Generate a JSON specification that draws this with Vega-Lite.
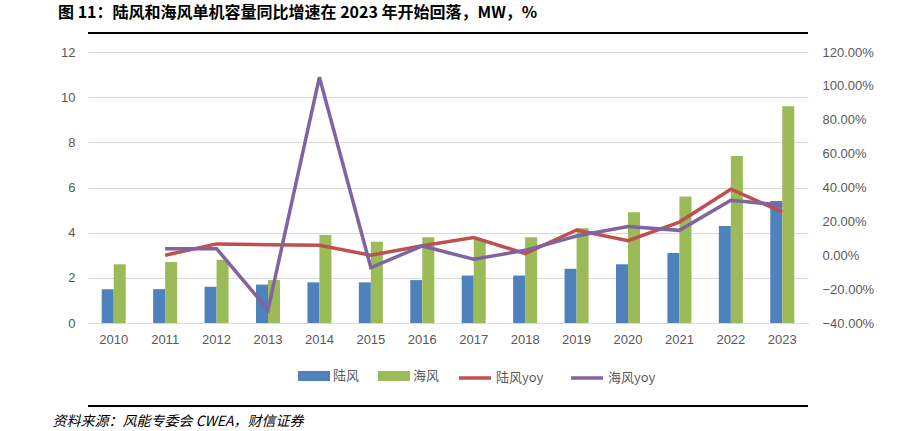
{
  "$schema": "https://vega.github.io/schema/vega-lite/v6.json",
  "width": 720,
  "height": 271,
  "autosize": {"type": "none"},
  "padding": {"left": 88, "top": 52, "right": 90, "bottom": 108},
  "background": "white",
  "title": {
    "text": "图 11：陆风和海风单机容量同比增速在 2023 年开始回落，MW，%",
    "anchor": "start",
    "frame": "group",
    "dx": -30,
    "offset": 11,
    "font": "Noto Sans CJK SC",
    "fontSize": 16,
    "fontWeight": "bold",
    "color": "black"
  },
  "datasets": {
    "bars": [
      {"year": "2010", "type": "陆风", "value": 1.5}, {"year": "2010", "type": "海风", "value": 2.6},
      {"year": "2011", "type": "陆风", "value": 1.5}, {"year": "2011", "type": "海风", "value": 2.7},
      {"year": "2012", "type": "陆风", "value": 1.6}, {"year": "2012", "type": "海风", "value": 2.8},
      {"year": "2013", "type": "陆风", "value": 1.7}, {"year": "2013", "type": "海风", "value": 1.9},
      {"year": "2014", "type": "陆风", "value": 1.8}, {"year": "2014", "type": "海风", "value": 3.9},
      {"year": "2015", "type": "陆风", "value": 1.8}, {"year": "2015", "type": "海风", "value": 3.6},
      {"year": "2016", "type": "陆风", "value": 1.9}, {"year": "2016", "type": "海风", "value": 3.8},
      {"year": "2017", "type": "陆风", "value": 2.1}, {"year": "2017", "type": "海风", "value": 3.7},
      {"year": "2018", "type": "陆风", "value": 2.1}, {"year": "2018", "type": "海风", "value": 3.8},
      {"year": "2019", "type": "陆风", "value": 2.4}, {"year": "2019", "type": "海风", "value": 4.2},
      {"year": "2020", "type": "陆风", "value": 2.6}, {"year": "2020", "type": "海风", "value": 4.9},
      {"year": "2021", "type": "陆风", "value": 3.1}, {"year": "2021", "type": "海风", "value": 5.6},
      {"year": "2022", "type": "陆风", "value": 4.3}, {"year": "2022", "type": "海风", "value": 7.4},
      {"year": "2023", "type": "陆风", "value": 5.4}, {"year": "2023", "type": "海风", "value": 9.6}
    ],
    "lines": [
      {"year": "2011", "series": "陆风yoy", "yoy": 0.0}, {"year": "2011", "series": "海风yoy", "yoy": 0.039},
      {"year": "2012", "series": "陆风yoy", "yoy": 0.067}, {"year": "2012", "series": "海风yoy", "yoy": 0.039},
      {"year": "2013", "series": "陆风yoy", "yoy": 0.0625}, {"year": "2013", "series": "海风yoy", "yoy": -0.322},
      {"year": "2014", "series": "陆风yoy", "yoy": 0.059}, {"year": "2014", "series": "海风yoy", "yoy": 1.051},
      {"year": "2015", "series": "陆风yoy", "yoy": 0.0}, {"year": "2015", "series": "海风yoy", "yoy": -0.073},
      {"year": "2016", "series": "陆风yoy", "yoy": 0.056}, {"year": "2016", "series": "海风yoy", "yoy": 0.055},
      {"year": "2017", "series": "陆风yoy", "yoy": 0.105}, {"year": "2017", "series": "海风yoy", "yoy": -0.024},
      {"year": "2018", "series": "陆风yoy", "yoy": 0.01}, {"year": "2018", "series": "海风yoy", "yoy": 0.029},
      {"year": "2019", "series": "陆风yoy", "yoy": 0.149}, {"year": "2019", "series": "海风yoy", "yoy": 0.114},
      {"year": "2020", "series": "陆风yoy", "yoy": 0.086}, {"year": "2020", "series": "海风yoy", "yoy": 0.169},
      {"year": "2021", "series": "陆风yoy", "yoy": 0.196}, {"year": "2021", "series": "海风yoy", "yoy": 0.147},
      {"year": "2022", "series": "陆风yoy", "yoy": 0.39}, {"year": "2022", "series": "海风yoy", "yoy": 0.325},
      {"year": "2023", "series": "陆风yoy", "yoy": 0.255}, {"year": "2023", "series": "海风yoy", "yoy": 0.296}
    ],
    "rules": [{"pos": 12.84}, {"pos": -3.68}]
  },
  "layer": [
    {
      "layer": [
        {
          "data": {"name": "bars"},
          "mark": {"type": "bar"},
          "encoding": {
            "x": {
              "field": "year",
              "type": "ordinal",
              "title": "资料来源：风能专委会 CWEA，财信证券",
              "scale": {"paddingInner": 0.533, "paddingOuter": 0.2665},
              "axis": {
                "labelAngle": 0,
                "ticks": false,
                "domainColor": "#D9D9D9",
                "labelColor": "#595959",
                "labelFont": "Liberation Sans",
                "labelFontSize": 13,
                "labelPadding": 10,
                "titleX": -36,
                "titleY": 102,
                "titleAlign": "left",
                "titleAnchor": "start",
                "titleBaseline": "alphabetic",
                "titleFont": "Noto Sans CJK SC",
                "titleFontSize": 14,
                "titleFontStyle": "italic",
                "titleFontWeight": "normal",
                "titleColor": "black"
              }
            },
            "xOffset": {"field": "type", "scale": {"domain": ["陆风", "海风"]}},
            "y": {
              "field": "value",
              "type": "quantitative",
              "title": null,
              "scale": {"domain": [0, 12]},
              "axis": {
                "values": [0, 2, 4, 6, 8, 10, 12],
                "domain": false,
                "ticks": false,
                "gridColor": "#D9D9D9",
                "labelColor": "#595959",
                "labelFont": "Liberation Sans",
                "labelFontSize": 13,
                "labelPadding": 13
              }
            },
            "color": {
              "field": "type",
              "type": "nominal",
              "scale": {"domain": ["陆风", "海风"], "range": ["#4F81BD", "#9BBB59"]},
              "legend": {
                "orient": "none",
                "legendX": 210,
                "legendY": 308,
                "direction": "horizontal",
                "title": null,
                "symbolType": "M-1,-0.3125H1V0.3125H-1Z",
                "symbolSize": 1024,
                "symbolStrokeWidth": 0,
                "labelFont": "Noto Sans CJK SC",
                "labelFontSize": 13,
                "labelColor": "#595959",
                "labelOffset": 3,
                "columnPadding": 18
              }
            }
          }
        },
        {
          "data": {"name": "rules"},
          "mark": {"type": "rule", "color": "black", "strokeWidth": 2},
          "encoding": {
            "y": {
              "field": "pos",
              "type": "quantitative",
              "title": null,
              "scale": {"domain": [0, 12]},
              "axis": {
                "values": [0, 2, 4, 6, 8, 10, 12],
                "domain": false,
                "ticks": false,
                "gridColor": "#D9D9D9",
                "labelColor": "#595959",
                "labelFont": "Liberation Sans",
                "labelFontSize": 13,
                "labelPadding": 13
              }
            }
          }
        }
      ]
    },
    {
      "data": {"name": "lines"},
      "mark": {"type": "line", "strokeWidth": 3.5},
      "encoding": {
        "x": {"field": "year", "type": "ordinal", "title": "资料来源：风能专委会 CWEA，财信证券"},
        "y": {
          "field": "yoy",
          "type": "quantitative",
          "scale": {"domain": [-0.4, 1.2]},
          "axis": {
            "orient": "right",
            "title": null,
            "format": ".2%",
            "values": [-0.4, -0.2, 0, 0.2, 0.4, 0.6, 0.8, 1.0, 1.2],
            "grid": false,
            "domain": false,
            "ticks": false,
            "labelColor": "#595959",
            "labelFont": "Liberation Sans",
            "labelFontSize": 13,
            "labelPadding": 14
          }
        },
        "stroke": {
          "field": "series",
          "type": "nominal",
          "scale": {"domain": ["陆风yoy", "海风yoy"], "range": ["#C0504D", "#8064A2"]},
          "legend": {
            "orient": "none",
            "legendX": 369,
            "legendY": 308,
            "direction": "horizontal",
            "title": null,
            "symbolType": "stroke",
            "symbolSize": 1024,
            "symbolStrokeWidth": 3.5,
            "labelFont": "Noto Sans CJK SC",
            "labelFontSize": 13,
            "labelColor": "#595959",
            "labelOffset": 3,
            "columnPadding": 20
          }
        }
      }
    }
  ],
  "resolve": {"scale": {"y": "independent"}},
  "config": {"view": {"stroke": null}}
}
